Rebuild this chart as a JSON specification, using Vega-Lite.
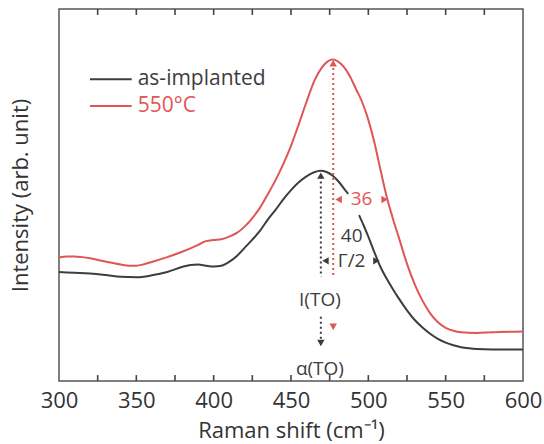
{
  "$schema": "https://vega.github.io/schema/vega-lite/v6.json",
  "width": 464,
  "height": 372,
  "autosize": {"type": "none"},
  "padding": {"left": 59, "top": 9, "right": 21, "bottom": 63},
  "background": "#ffffff",
  "config": {
    "view": {"stroke": "#555555", "strokeWidth": 1.5},
    "font": "Open Sans",
    "text": {"font": "Open Sans"}
  },
  "datasets": {
    "spectra": [
      {"shift": 300, "intensity": 29.3, "sample": "as-implanted", "part": "a"},
      {"shift": 310, "intensity": 29.1, "sample": "as-implanted", "part": "a"},
      {"shift": 320, "intensity": 28.9, "sample": "as-implanted", "part": "a"},
      {"shift": 330, "intensity": 28.5, "sample": "as-implanted", "part": "a"},
      {"shift": 340, "intensity": 28.0, "sample": "as-implanted", "part": "a"},
      {"shift": 350, "intensity": 27.9, "sample": "as-implanted", "part": "a"},
      {"shift": 360, "intensity": 28.4, "sample": "as-implanted", "part": "a"},
      {"shift": 370, "intensity": 29.3, "sample": "as-implanted", "part": "a"},
      {"shift": 380, "intensity": 30.7, "sample": "as-implanted", "part": "a"},
      {"shift": 385, "intensity": 31.2, "sample": "as-implanted", "part": "a"},
      {"shift": 390, "intensity": 31.3, "sample": "as-implanted", "part": "a"},
      {"shift": 395, "intensity": 31.0, "sample": "as-implanted", "part": "a"},
      {"shift": 400, "intensity": 30.8, "sample": "as-implanted", "part": "a"},
      {"shift": 405, "intensity": 31.0, "sample": "as-implanted", "part": "a"},
      {"shift": 410, "intensity": 32.0, "sample": "as-implanted", "part": "a"},
      {"shift": 415, "intensity": 33.6, "sample": "as-implanted", "part": "a"},
      {"shift": 420, "intensity": 35.8, "sample": "as-implanted", "part": "a"},
      {"shift": 425, "intensity": 38.0, "sample": "as-implanted", "part": "a"},
      {"shift": 430, "intensity": 40.4, "sample": "as-implanted", "part": "a"},
      {"shift": 435, "intensity": 43.4, "sample": "as-implanted", "part": "a"},
      {"shift": 440, "intensity": 46.0, "sample": "as-implanted", "part": "a"},
      {"shift": 445, "intensity": 48.8, "sample": "as-implanted", "part": "a"},
      {"shift": 450, "intensity": 51.3, "sample": "as-implanted", "part": "a"},
      {"shift": 455, "intensity": 53.4, "sample": "as-implanted", "part": "a"},
      {"shift": 460, "intensity": 55.0, "sample": "as-implanted", "part": "a"},
      {"shift": 465, "intensity": 56.1, "sample": "as-implanted", "part": "a"},
      {"shift": 469, "intensity": 56.5, "sample": "as-implanted", "part": "a"},
      {"shift": 473, "intensity": 56.2, "sample": "as-implanted", "part": "a"},
      {"shift": 477, "intensity": 55.2, "sample": "as-implanted", "part": "a"},
      {"shift": 481, "intensity": 53.5, "sample": "as-implanted", "part": "a"},
      {"shift": 485, "intensity": 51.3, "sample": "as-implanted", "part": "a"},
      {"shift": 487, "intensity": 50.3, "sample": "as-implanted", "part": "a"},
      {"shift": 494, "intensity": 44.6, "sample": "as-implanted", "part": "b"},
      {"shift": 497, "intensity": 41.8, "sample": "as-implanted", "part": "b"},
      {"shift": 500, "intensity": 38.8, "sample": "as-implanted", "part": "b"},
      {"shift": 504, "intensity": 34.5, "sample": "as-implanted", "part": "b"},
      {"shift": 508, "intensity": 30.5, "sample": "as-implanted", "part": "b"},
      {"shift": 512, "intensity": 27.4, "sample": "as-implanted", "part": "b"},
      {"shift": 516, "intensity": 24.6, "sample": "as-implanted", "part": "b"},
      {"shift": 520, "intensity": 22.0, "sample": "as-implanted", "part": "b"},
      {"shift": 525, "intensity": 19.0, "sample": "as-implanted", "part": "b"},
      {"shift": 530, "intensity": 16.4, "sample": "as-implanted", "part": "b"},
      {"shift": 535, "intensity": 14.4, "sample": "as-implanted", "part": "b"},
      {"shift": 540, "intensity": 12.7, "sample": "as-implanted", "part": "b"},
      {"shift": 545, "intensity": 11.3, "sample": "as-implanted", "part": "b"},
      {"shift": 550, "intensity": 10.3, "sample": "as-implanted", "part": "b"},
      {"shift": 555, "intensity": 9.6, "sample": "as-implanted", "part": "b"},
      {"shift": 560, "intensity": 9.1, "sample": "as-implanted", "part": "b"},
      {"shift": 565, "intensity": 8.8, "sample": "as-implanted", "part": "b"},
      {"shift": 570, "intensity": 8.6, "sample": "as-implanted", "part": "b"},
      {"shift": 580, "intensity": 8.5, "sample": "as-implanted", "part": "b"},
      {"shift": 600, "intensity": 8.5, "sample": "as-implanted", "part": "b"},
      {"shift": 300, "intensity": 33.2, "sample": "550°C", "part": "a"},
      {"shift": 305, "intensity": 33.5, "sample": "550°C", "part": "a"},
      {"shift": 310, "intensity": 33.5, "sample": "550°C", "part": "a"},
      {"shift": 315, "intensity": 33.3, "sample": "550°C", "part": "a"},
      {"shift": 320, "intensity": 33.0, "sample": "550°C", "part": "a"},
      {"shift": 330, "intensity": 32.1, "sample": "550°C", "part": "a"},
      {"shift": 340, "intensity": 31.3, "sample": "550°C", "part": "a"},
      {"shift": 345, "intensity": 31.0, "sample": "550°C", "part": "a"},
      {"shift": 350, "intensity": 31.0, "sample": "550°C", "part": "a"},
      {"shift": 355, "intensity": 31.4, "sample": "550°C", "part": "a"},
      {"shift": 360, "intensity": 32.0, "sample": "550°C", "part": "a"},
      {"shift": 370, "intensity": 33.3, "sample": "550°C", "part": "a"},
      {"shift": 380, "intensity": 34.8, "sample": "550°C", "part": "a"},
      {"shift": 390, "intensity": 36.6, "sample": "550°C", "part": "a"},
      {"shift": 395, "intensity": 37.6, "sample": "550°C", "part": "a"},
      {"shift": 400, "intensity": 37.9, "sample": "550°C", "part": "a"},
      {"shift": 405, "intensity": 38.1, "sample": "550°C", "part": "a"},
      {"shift": 410, "intensity": 38.8, "sample": "550°C", "part": "a"},
      {"shift": 415, "intensity": 39.8, "sample": "550°C", "part": "a"},
      {"shift": 420, "intensity": 41.5, "sample": "550°C", "part": "a"},
      {"shift": 425, "intensity": 43.8, "sample": "550°C", "part": "a"},
      {"shift": 430, "intensity": 46.6, "sample": "550°C", "part": "a"},
      {"shift": 435, "intensity": 50.2, "sample": "550°C", "part": "a"},
      {"shift": 440, "intensity": 54.0, "sample": "550°C", "part": "a"},
      {"shift": 445, "intensity": 58.3, "sample": "550°C", "part": "a"},
      {"shift": 450, "intensity": 63.2, "sample": "550°C", "part": "a"},
      {"shift": 455, "intensity": 69.0, "sample": "550°C", "part": "a"},
      {"shift": 460, "intensity": 75.0, "sample": "550°C", "part": "a"},
      {"shift": 465, "intensity": 80.6, "sample": "550°C", "part": "a"},
      {"shift": 470, "intensity": 84.3, "sample": "550°C", "part": "a"},
      {"shift": 474, "intensity": 86.0, "sample": "550°C", "part": "a"},
      {"shift": 477, "intensity": 86.4, "sample": "550°C", "part": "a"},
      {"shift": 480, "intensity": 86.0, "sample": "550°C", "part": "a"},
      {"shift": 484, "intensity": 84.5, "sample": "550°C", "part": "a"},
      {"shift": 488, "intensity": 82.0, "sample": "550°C", "part": "a"},
      {"shift": 492, "intensity": 78.5, "sample": "550°C", "part": "a"},
      {"shift": 496, "intensity": 75.0, "sample": "550°C", "part": "a"},
      {"shift": 500, "intensity": 70.2, "sample": "550°C", "part": "a"},
      {"shift": 504, "intensity": 64.0, "sample": "550°C", "part": "a"},
      {"shift": 508, "intensity": 56.5, "sample": "550°C", "part": "a"},
      {"shift": 512, "intensity": 49.3, "sample": "550°C", "part": "a"},
      {"shift": 516, "intensity": 43.5, "sample": "550°C", "part": "a"},
      {"shift": 520, "intensity": 38.2, "sample": "550°C", "part": "a"},
      {"shift": 525, "intensity": 31.5, "sample": "550°C", "part": "a"},
      {"shift": 530, "intensity": 26.0, "sample": "550°C", "part": "a"},
      {"shift": 535, "intensity": 21.6, "sample": "550°C", "part": "a"},
      {"shift": 540, "intensity": 18.2, "sample": "550°C", "part": "a"},
      {"shift": 545, "intensity": 15.8, "sample": "550°C", "part": "a"},
      {"shift": 550, "intensity": 14.3, "sample": "550°C", "part": "a"},
      {"shift": 555, "intensity": 13.5, "sample": "550°C", "part": "a"},
      {"shift": 560, "intensity": 13.1, "sample": "550°C", "part": "a"},
      {"shift": 570, "intensity": 12.9, "sample": "550°C", "part": "a"},
      {"shift": 580, "intensity": 13.1, "sample": "550°C", "part": "a"},
      {"shift": 600, "intensity": 13.3, "sample": "550°C", "part": "a"}
    ],
    "ticks": [
      {"t": 325}, {"t": 350}, {"t": 375}, {"t": 400}, {"t": 425}, {"t": 450},
      {"t": 475}, {"t": 500}, {"t": 525}, {"t": 550}, {"t": 575}
    ],
    "legend": [
      {"x": 320, "x2": 347, "y": 81.1, "label": "as-implanted", "sample": "as-implanted"},
      {"x": 320, "x2": 347, "y": 73.9, "label": "550°C", "sample": "550°C"}
    ],
    "vlines": [
      {"x": 469.3, "y": 55.0, "y2": 28.0, "sample": "as-implanted"},
      {"x": 469.3, "y": 17.3, "y2": 11.0, "sample": "as-implanted"},
      {"x": 477.3, "y": 85.5, "y2": 28.5, "sample": "550°C"}
    ],
    "arrows": [
      {"x": 469.3, "y": 55.2, "dir": "up", "sample": "as-implanted"},
      {"x": 469.3, "y": 10.2, "dir": "down", "sample": "as-implanted"},
      {"x": 477.3, "y": 85.4, "dir": "up", "sample": "550°C"},
      {"x": 477.3, "y": 14.6, "dir": "down", "sample": "550°C"},
      {"x": 480.8, "y": 48.8, "dir": "left", "sample": "550°C"},
      {"x": 510.5, "y": 48.8, "dir": "right", "sample": "550°C"},
      {"x": 472.3, "y": 32.3, "dir": "left", "sample": "as-implanted"},
      {"x": 505.2, "y": 32.3, "dir": "right", "sample": "as-implanted"}
    ],
    "notes": [
      {"x": 495.6, "y": 48.8, "text": "36", "sample": "550°C"},
      {"x": 489.2, "y": 38.9, "text": "40", "sample": "as-implanted"},
      {"x": 489.2, "y": 32.3, "text": "Γ/2", "sample": "as-implanted"},
      {"x": 468.7, "y": 21.8, "text": "I(TO)", "sample": "as-implanted"},
      {"x": 468.7, "y": 3.3, "text": "α(TO)", "sample": "as-implanted"}
    ]
  },
  "layer": [
    {
      "data": {"name": "spectra"},
      "mark": {"type": "line", "strokeWidth": 2, "interpolate": "monotone"},
      "encoding": {
        "x": {
          "field": "shift", "type": "quantitative",
          "scale": {"domain": [300, 600], "nice": false, "zero": false},
          "axis": {
            "orient": "bottom",
            "values": [300, 350, 400, 450, 500, 550, 600],
            "ticks": false, "domain": false, "grid": false,
            "labelFont": "Open Sans", "labelFontSize": 22, "labelColor": "#333333",
            "labelPadding": 9, "labelFlush": false, "labelOverlap": false,
            "title": "Raman shift (cm⁻¹)", "titleFont": "Open Sans", "titleFontSize": 22,
            "titleFontWeight": "normal", "titleColor": "#333333", "titlePadding": 9
          }
        },
        "y": {
          "field": "intensity", "type": "quantitative",
          "scale": {"domain": [0, 100], "nice": false},
          "axis": {
            "orient": "left",
            "values": [50],
            "ticks": true, "tickSize": 1, "tickOpacity": 0,
            "labels": false, "domain": false, "grid": false,
            "title": "Intensity (arb. unit)", "titleFont": "Open Sans", "titleFontSize": 22,
            "titleFontWeight": "normal", "titleColor": "#333333", "titlePadding": 26
          }
        },
        "color": {
          "field": "sample", "type": "nominal",
          "scale": {"domain": ["as-implanted", "550°C"], "range": ["#3d3d3d", "#e05555"]},
          "legend": null
        },
        "detail": {"field": "part"}
      }
    },
    {
      "data": {"name": "ticks"},
      "mark": {"type": "rule", "strokeWidth": 1.6, "color": "#444444"},
      "encoding": {
        "x": {"field": "t", "type": "quantitative"},
        "y": {"datum": 0},
        "y2": {"datum": 1.6}
      }
    },
    {
      "data": {"name": "ticks"},
      "mark": {"type": "rule", "strokeWidth": 1.6, "color": "#444444"},
      "encoding": {
        "x": {"field": "t", "type": "quantitative"},
        "y": {"datum": 98.4},
        "y2": {"datum": 100}
      }
    },
    {
      "data": {"name": "legend"},
      "mark": {"type": "rule", "strokeWidth": 2},
      "encoding": {
        "x": {"field": "x", "type": "quantitative"},
        "x2": {"field": "x2"},
        "y": {"field": "y", "type": "quantitative"},
        "color": {"field": "sample", "type": "nominal", "legend": null}
      }
    },
    {
      "data": {"name": "legend"},
      "mark": {"type": "text", "align": "left", "baseline": "middle", "dx": 6, "fontSize": 21, "font": "Open Sans"},
      "encoding": {
        "x": {"field": "x2", "type": "quantitative"},
        "y": {"field": "y", "type": "quantitative"},
        "text": {"field": "label"},
        "color": {"field": "sample", "type": "nominal", "legend": null}
      }
    },
    {
      "data": {"name": "vlines"},
      "mark": {"type": "rule", "strokeWidth": 2, "strokeDash": [2, 3]},
      "encoding": {
        "x": {"field": "x", "type": "quantitative"},
        "y": {"field": "y", "type": "quantitative"},
        "y2": {"field": "y2"},
        "color": {"field": "sample", "type": "nominal", "legend": null}
      }
    },
    {
      "data": {"name": "arrows"},
      "mark": {"type": "point", "filled": true, "opacity": 1, "size": 55},
      "encoding": {
        "x": {"field": "x", "type": "quantitative"},
        "y": {"field": "y", "type": "quantitative"},
        "shape": {
          "field": "dir", "type": "nominal",
          "scale": {"domain": ["up", "down", "left", "right"], "range": ["triangle-up", "triangle-down", "triangle-left", "triangle-right"]},
          "legend": null
        },
        "color": {"field": "sample", "type": "nominal", "legend": null}
      }
    },
    {
      "data": {"name": "notes"},
      "mark": {"type": "text", "align": "center", "baseline": "middle", "fontSize": 19, "font": "Open Sans"},
      "encoding": {
        "x": {"field": "x", "type": "quantitative"},
        "y": {"field": "y", "type": "quantitative"},
        "text": {"field": "text"},
        "color": {"field": "sample", "type": "nominal", "legend": null}
      }
    }
  ]
}
